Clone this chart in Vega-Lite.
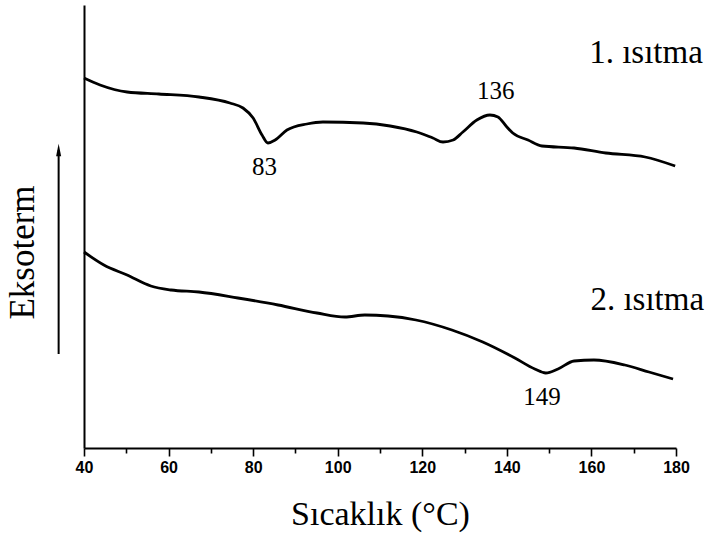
{
  "$schema": "https://vega.github.io/schema/vega-lite/v6.json",
  "width": 592,
  "height": 443,
  "autosize": {"type": "none"},
  "padding": {"left": 84, "top": 5, "right": 33, "bottom": 96},
  "background": "white",
  "config": {"view": {"stroke": null}},
  "datasets": {
    "curves": [
      {"T": 40.0, "v": 370, "s": "1"}, {"T": 43.8, "v": 363, "s": "1"}, {"T": 50.2, "v": 356, "s": "1"}, {"T": 57.7, "v": 354, "s": "1"},
      {"T": 67.2, "v": 351, "s": "1"}, {"T": 74.5, "v": 345, "s": "1"}, {"T": 77.6, "v": 340, "s": "1"}, {"T": 80.0, "v": 330, "s": "1"},
      {"T": 82.1, "v": 313, "s": "1"}, {"T": 83.5, "v": 305, "s": "1"}, {"T": 85.2, "v": 308, "s": "1"}, {"T": 88.0, "v": 318, "s": "1"},
      {"T": 92.7, "v": 324, "s": "1"}, {"T": 96.5, "v": 326, "s": "1"}, {"T": 106.0, "v": 325, "s": "1"}, {"T": 112.4, "v": 322, "s": "1"},
      {"T": 118.7, "v": 316, "s": "1"}, {"T": 122.5, "v": 310, "s": "1"}, {"T": 124.9, "v": 306, "s": "1"}, {"T": 127.3, "v": 308, "s": "1"},
      {"T": 129.6, "v": 316, "s": "1"}, {"T": 132.9, "v": 328, "s": "1"}, {"T": 136.0, "v": 333, "s": "1"}, {"T": 137.9, "v": 331, "s": "1"},
      {"T": 140.0, "v": 321, "s": "1"}, {"T": 141.4, "v": 315, "s": "1"}, {"T": 145.0, "v": 308, "s": "1"}, {"T": 148.3, "v": 302, "s": "1"},
      {"T": 155.9, "v": 300, "s": "1"}, {"T": 163.4, "v": 295, "s": "1"}, {"T": 172.7, "v": 291, "s": "1"}, {"T": 179.8, "v": 282, "s": "1"},
      {"T": 40.0, "v": 196, "s": "2"}, {"T": 44.7, "v": 183, "s": "2"}, {"T": 50.2, "v": 173, "s": "2"}, {"T": 55.8, "v": 162, "s": "2"},
      {"T": 60.6, "v": 158, "s": "2"}, {"T": 67.2, "v": 156, "s": "2"}, {"T": 76.4, "v": 150, "s": "2"}, {"T": 85.9, "v": 143, "s": "2"},
      {"T": 95.1, "v": 135, "s": "2"}, {"T": 101.7, "v": 131, "s": "2"}, {"T": 106.4, "v": 133, "s": "2"}, {"T": 111.9, "v": 132, "s": "2"},
      {"T": 118.5, "v": 128, "s": "2"}, {"T": 127.0, "v": 118, "s": "2"}, {"T": 134.3, "v": 106, "s": "2"}, {"T": 141.9, "v": 90, "s": "2"},
      {"T": 146.6, "v": 79, "s": "2"}, {"T": 149.2, "v": 75, "s": "2"}, {"T": 152.1, "v": 79, "s": "2"}, {"T": 155.9, "v": 87, "s": "2"},
      {"T": 160.6, "v": 88, "s": "2"}, {"T": 167.9, "v": 83, "s": "2"}, {"T": 173.6, "v": 76, "s": "2"}, {"T": 179.3, "v": 69, "s": "2"}
    ],
    "peaks": [
      {"T": 82.7, "v": 281, "label": "83"},
      {"T": 137.4, "v": 357, "label": "136"},
      {"T": 148.3, "v": 51, "label": "149"}
    ],
    "runs": [
      {"T": 172.9, "v": 395, "label": "1. ısıtma"},
      {"T": 173.2, "v": 148, "label": "2. ısıtma"}
    ],
    "arrow": [{"T": 34.0, "v": 94, "v2": 298}]
  },
  "layer": [
    {
      "data": {"name": "curves"},
      "mark": {"type": "line", "color": "black", "strokeWidth": 2.8, "interpolate": "monotone", "strokeJoin": "round"},
      "encoding": {
        "x": {
          "field": "T", "type": "quantitative",
          "scale": {"domain": [40, 180], "nice": false, "zero": false},
          "axis": {
            "values": [40, 50, 60, 70, 80, 90, 100, 110, 120, 130, 140, 150, 160, 170, 180],
            "labelExpr": "datum.value % 20 === 0 ? datum.label : ''",
            "grid": false,
            "domainColor": "black", "domainWidth": 2,
            "tickColor": "black", "tickWidth": 1.6,
            "tickSize": {"condition": {"test": "datum.value % 20 === 0", "value": 8}, "value": 5},
            "labelFont": "Liberation Sans", "labelFontWeight": "bold", "labelFontSize": 16, "labelColor": "black",
            "labelPadding": 3, "labelFlush": false,
            "title": "Sıcaklık (°C)",
            "titleFont": "Liberation Serif", "titleFontWeight": "normal", "titleFontSize": 34, "titleColor": "black",
            "titlePadding": 22
          }
        },
        "y": {
          "field": "v", "type": "quantitative",
          "scale": {"domain": [0, 443], "nice": false, "zero": false},
          "axis": {
            "ticks": false, "labels": false, "grid": false,
            "domainColor": "black", "domainWidth": 2,
            "title": "Eksoterm",
            "titleFont": "Liberation Serif", "titleFontWeight": "normal", "titleFontSize": 35, "titleColor": "black",
            "titleAngle": 270, "titleAlign": "center", "titleBaseline": "middle",
            "titleX": -62, "titleY": 247
          }
        },
        "detail": {"field": "s"}
      }
    },
    {
      "data": {"name": "peaks"},
      "mark": {"type": "text", "font": "Liberation Serif", "fontSize": 25, "color": "black", "align": "center", "baseline": "middle"},
      "encoding": {
        "x": {"field": "T", "type": "quantitative"},
        "y": {"field": "v", "type": "quantitative"},
        "text": {"field": "label"}
      }
    },
    {
      "data": {"name": "runs"},
      "mark": {"type": "text", "font": "Liberation Serif", "fontSize": 33, "color": "black", "align": "center", "baseline": "middle"},
      "encoding": {
        "x": {"field": "T", "type": "quantitative"},
        "y": {"field": "v", "type": "quantitative"},
        "text": {"field": "label"}
      }
    },
    {
      "data": {"name": "arrow"},
      "mark": {"type": "rule", "color": "black", "strokeWidth": 2},
      "encoding": {
        "x": {"field": "T", "type": "quantitative"},
        "y": {"field": "v", "type": "quantitative"},
        "y2": {"field": "v2"}
      }
    },
    {
      "data": {"name": "arrow"},
      "mark": {"type": "point", "shape": "M0,-1L0.4,1L-0.4,1Z", "filled": true, "color": "black", "opacity": 1, "size": 160},
      "encoding": {
        "x": {"field": "T", "type": "quantitative"},
        "y": {"field": "v2", "type": "quantitative"}
      }
    }
  ]
}
